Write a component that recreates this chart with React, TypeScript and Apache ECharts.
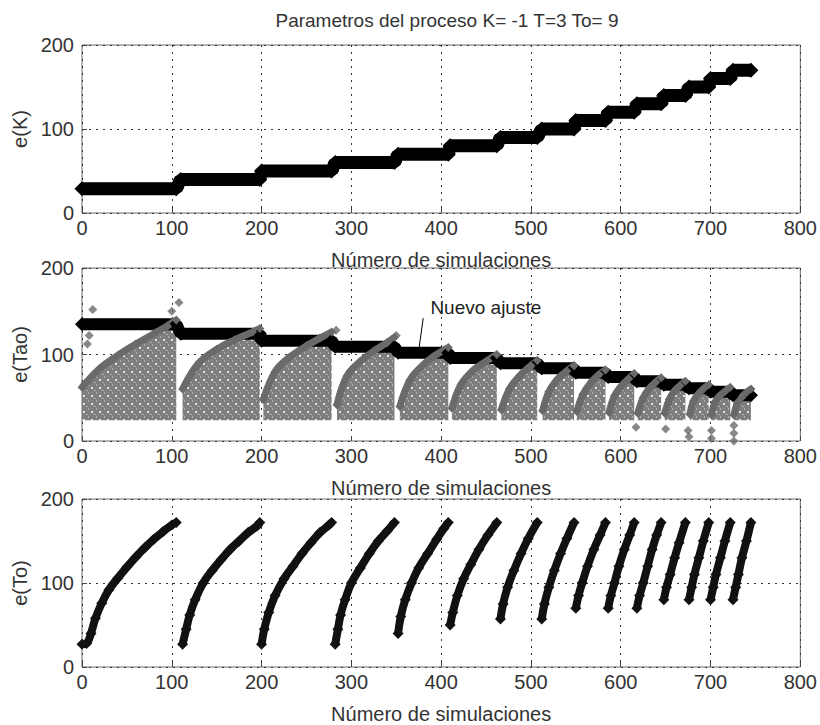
import React, { useEffect, useRef } from "react";
import * as echarts from "echarts";

const titleText = "Parametros del proceso K= -1 T=3 To= 9";
const xAxisName = "Número de simulaciones";
const yAxisNames = ["e(K)", "e(Tao)", "e(To)"];
const annotationText = "Nuevo ajuste";

// cycle limits (simulation index)
const cycleStart = [0, 110, 200, 282, 352, 410, 466, 512, 550, 586, 618, 648, 676, 700, 725];
const cycleEnd = [105, 198, 278, 348, 408, 462, 507, 548, 583, 615, 645, 672, 698, 722, 745];

// e(K) level per cycle
const kLevels = [29, 40, 50, 60, 70, 80, 90, 100, 110, 120, 130, 140, 150, 160, 170];

// e(Tao) level per cycle (black band)
const tauLevels = [135, 124, 116, 109, 102, 96, 90, 84, 79, 74, 69, 65, 61, 57, 53];

// e(Tao) gray fitting curves per cycle
const tauFitX = [
  [0, 20, 40, 60, 80, 95, 105],
  [112, 130, 150, 170, 190, 198],
  [202, 215, 230, 250, 265, 278],
  [284, 295, 310, 325, 340, 348],
  [354, 365, 378, 392, 408],
  [412, 422, 435, 450, 462],
  [467, 476, 488, 500, 507],
  [513, 520, 530, 540, 548],
  [551, 558, 567, 576, 583],
  [587, 593, 601, 609, 615],
  [619, 625, 632, 639, 645],
  [649, 654, 660, 666, 672],
  [677, 681, 687, 693, 698],
  [701, 705, 711, 717, 722],
  [726, 730, 735, 740, 745],
];
const tauFitY = [
  [62, 84, 99, 112, 124, 133, 140],
  [60, 90, 106, 117, 126, 130],
  [48, 80, 96, 110, 119, 126],
  [42, 75, 92, 104, 114, 120],
  [40, 70, 86, 98, 108],
  [38, 65, 81, 92, 100],
  [36, 60, 76, 87, 93],
  [35, 57, 72, 81, 87],
  [34, 54, 68, 77, 82],
  [33, 52, 64, 72, 78],
  [32, 50, 61, 68, 73],
  [32, 48, 58, 64, 69],
  [31, 46, 55, 61, 65],
  [30, 45, 53, 58, 62],
  [30, 44, 51, 56, 60],
];
const tauFloor = 24;

// isolated e(Tao) points
const tauOutlierX = [12, 8, 6, 100, 108, 283, 350, 617, 650, 675, 676, 701, 701, 726, 726, 726];
const tauOutlierY = [152, 122, 112, 150, 160, 128, 122, 16, 14, 12, 5, 12, 3, 18, 9, 0];

// e(To) curves per cycle
const toX = [
  [0, 5, 10, 15, 22, 30, 40, 50, 60, 70, 80, 90, 100, 105],
  [112, 116, 120, 126, 135, 145, 155, 165, 175, 185, 195, 198],
  [200, 203, 208, 215, 225, 235, 245, 255, 265, 275, 278],
  [282, 285, 288, 293, 300, 310, 320, 330, 340, 348],
  [352, 355, 360, 367, 375, 385, 395, 403, 408],
  [410, 413, 418, 425, 433, 442, 452, 462],
  [466, 469, 474, 481, 489, 497, 507],
  [512, 515, 520, 526, 533, 540, 548],
  [550, 553, 557, 563, 570, 577, 583],
  [586, 589, 593, 598, 604, 610, 615],
  [618, 621, 625, 630, 635, 640, 645],
  [648, 651, 655, 660, 665, 672],
  [676, 679, 682, 687, 692, 698],
  [700, 703, 706, 711, 716, 722],
  [725, 728, 731, 735, 740, 745],
];
const toY = [
  [27, 28, 40, 58, 76, 92, 106, 119, 131, 142, 152, 161, 169, 172],
  [27, 45, 62, 80, 100, 115, 128, 140, 150, 160, 168, 172],
  [27, 45, 65, 85, 105, 120, 135, 148, 160, 169, 172],
  [27, 45, 62, 80, 100, 118, 135, 150, 162, 172],
  [40, 60, 80, 100, 118, 135, 152, 165, 172],
  [50, 65, 85, 105, 122, 140, 157, 172],
  [57, 75, 95, 115, 135, 153, 172],
  [57, 75, 95, 115, 135, 153, 172],
  [70, 85, 100, 120, 140, 157, 172],
  [70, 85, 100, 120, 140, 157, 172],
  [70, 85, 100, 120, 140, 157, 172],
  [80, 95, 110, 130, 148, 172],
  [80, 95, 110, 130, 150, 172],
  [80, 95, 110, 130, 150, 172],
  [80, 95, 110, 130, 150, 172],
];

const FONT = "'Liberation Sans', Arial, sans-serif";

function levelSteps(levels: number[]) {
  const out: any[] = [];
  levels.forEach((v, i) => {
    out.push([cycleStart[i], v]);
    out.push([cycleEnd[i], v]);
  });
  return out;
}

function cycleCurves(xs: number[][], ys: number[][]) {
  const out: any[] = [];
  xs.forEach((row, i) => {
    row.forEach((x, j) => out.push([x, ys[i][j]]));
    if (i < xs.length - 1) out.push([row[row.length - 1] + 1, "-"]);
  });
  return out;
}

function makeHatch(): HTMLCanvasElement {
  const c = document.createElement("canvas");
  c.width = 8;
  c.height = 8;
  const g = c.getContext("2d")!;
  g.fillStyle = "#7e7e7e";
  g.fillRect(0, 0, 8, 8);
  g.fillStyle = "#e4e4e4";
  g.fillRect(3, 3, 2, 2);
  g.fillStyle = "#b0b0b0";
  g.fillRect(0, 0, 1, 2);
  g.fillRect(6, 6, 2, 1);
  return c;
}

export default function App() {
  const ref = useRef<HTMLDivElement>(null);
  useEffect(() => {
    document.body.style.margin = "0";
    const chart = echarts.init(ref.current!, null, { renderer: "svg" });
    const tops = [45, 268, 499];
    const heights = [168, 173, 169];
    const grids = tops.map((t, i) => ({
      left: 82,
      top: t,
      width: 720,
      height: heights[i],
      show: true,
      borderColor: "#6a6a6a",
      borderWidth: 1,
      backgroundColor: "#fff",
    }));
    const xAxes = tops.map((_, i) => ({
      type: "value",
      gridIndex: i,
      min: 0,
      max: 800,
      interval: 100,
      name: xAxisName,
      nameLocation: "middle",
      nameGap: 37,
      nameTextStyle: { fontFamily: FONT, fontSize: 20, color: "#333" },
      axisLine: { show: false },
      axisTick: { inside: true, length: 5, lineStyle: { color: "#444" } },
      axisLabel: { fontFamily: FONT, fontSize: 20, color: "#333", margin: 5 },
      splitLine: { show: true, lineStyle: { color: "#333", type: [2, 5], width: 1 } },
    }));
    const yAxes = tops.map((_, i) => ({
      type: "value",
      gridIndex: i,
      min: 0,
      max: 200,
      interval: 100,
      name: yAxisNames[i],
      nameLocation: "middle",
      nameGap: 41,
      nameTextStyle: { fontFamily: FONT, fontSize: 20, color: "#333" },
      axisLine: { show: false },
      axisTick: { inside: true, length: 5, lineStyle: { color: "#444" } },
      axisLabel: { fontFamily: FONT, fontSize: 20, color: "#333", margin: 8 },
      splitLine: { show: true, lineStyle: { color: "#333", type: [2, 5], width: 1 } },
    }));

    const tauOutliers = tauOutlierX.map((x, i) => [x, tauOutlierY[i]]);

    chart.setOption({
      animation: false,
      title: {
        text: titleText,
        left: 442,
        top: 6,
        textAlign: "center",
        textStyle: { fontFamily: FONT, fontSize: 19, fontWeight: "normal", color: "#333" },
      },
      grid: grids,
      xAxis: xAxes,
      yAxis: yAxes,
      series: [
        {
          type: "line",
          xAxisIndex: 0,
          yAxisIndex: 0,
          data: levelSteps(kLevels),
          lineStyle: { color: "#000", width: 13 },
          symbol: "diamond",
          symbolSize: 15,
          itemStyle: { color: "#000" },
        },
        {
          type: "line",
          xAxisIndex: 1,
          yAxisIndex: 1,
          data: cycleCurves(tauFitX, tauFitY),
          smooth: 0.4,
          showSymbol: false,
          lineStyle: { width: 0 },
          areaStyle: {
            origin: tauFloor,
            opacity: 1,
            color: { image: makeHatch(), repeat: "repeat" },
          },
        },
        {
          type: "line",
          xAxisIndex: 1,
          yAxisIndex: 1,
          data: levelSteps(tauLevels),
          lineStyle: { color: "#000", width: 12 },
          symbol: "diamond",
          symbolSize: 14,
          itemStyle: { color: "#000" },
          markLine: {
            silent: true,
            symbol: ["none", "arrow"],
            symbolSize: 8,
            label: { show: false },
            lineStyle: { color: "#000", width: 1, type: "solid" },
            data: [[{ coord: [380, 142] }, { coord: [374, 97] }]],
          },
          markPoint: {
            symbol: "circle",
            symbolSize: 0,
            data: [
              {
                coord: [388, 154],
                label: {
                  show: true,
                  formatter: annotationText,
                  position: "right",
                  distance: 0,
                  fontFamily: FONT,
                  fontSize: 19,
                  color: "#222",
                },
              },
            ],
          },
        },
        {
          type: "line",
          xAxisIndex: 1,
          yAxisIndex: 1,
          data: cycleCurves(tauFitX, tauFitY),
          smooth: 0.4,
          lineStyle: { color: "#6a6a6a", width: 7 },
          symbol: "diamond",
          symbolSize: 9,
          itemStyle: { color: "#6a6a6a" },
        },
        {
          type: "scatter",
          xAxisIndex: 1,
          yAxisIndex: 1,
          data: tauOutliers,
          symbol: "diamond",
          symbolSize: 9,
          itemStyle: { color: "#6a6a6a" },
        },
        {
          type: "line",
          xAxisIndex: 2,
          yAxisIndex: 2,
          data: cycleCurves(toX, toY),
          smooth: 0.4,
          lineStyle: { color: "#111", width: 8 },
          symbol: "diamond",
          symbolSize: 11,
          itemStyle: { color: "#111" },
        },
      ],
    });
    return () => chart.dispose();
  }, []);
  return <div ref={ref} style={{ width: 820, height: 725, background: "#fff" }} />;
}
